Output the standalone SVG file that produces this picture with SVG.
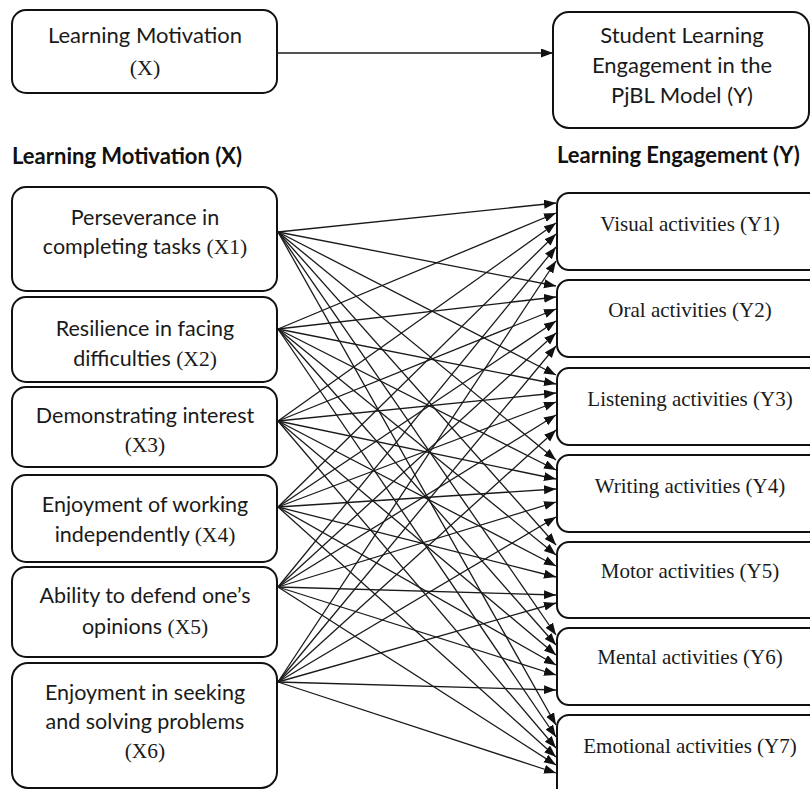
<svg xmlns="http://www.w3.org/2000/svg" width="810" height="789" viewBox="0 0 810 789">
  <style>
    .box { fill: #ffffff; stroke: #111111; stroke-width: 2; }
    .lbl { font-family: Lato, "Liberation Sans", sans-serif; font-size: 21.5px; fill: #1a1a1a; text-anchor: middle; }
    .big { font-size: 22px; }
    .ser { font-family: "Liberation Serif", serif; }
    .ylbl { font-family: "Liberation Serif", serif; font-size: 21px; fill: #1a1a1a; text-anchor: middle; }
    .hdr { font-family: Lato, "Liberation Sans", sans-serif; font-size: 22px; font-weight: bold; fill: #111111; }
    .edge { stroke: #1a1a1a; stroke-width: 1.3; fill: none; marker-end: url(#arr); }
  </style>
  <defs>
    <marker id="arr" markerUnits="userSpaceOnUse" markerWidth="13" markerHeight="10" refX="12" refY="4.5" orient="auto">
      <path d="M0,0 L12,4.5 L0,9 z" fill="#111111"/>
    </marker>
  </defs>
  <rect width="810" height="789" fill="#ffffff"/>

  <!-- overview row -->
  <g id="motivation">
    <rect class="box" x="12" y="10" width="265" height="83" rx="14"/>
    <text class="lbl big" x="145" y="43">Learning Motivation</text>
    <text class="lbl big ser" x="145" y="75">(X)</text>
  </g>
  <g id="engagement">
    <rect class="box" x="553" y="12" width="256" height="116" rx="16"/>
    <text class="lbl big" x="682" y="43">Student Learning</text>
    <text class="lbl big" x="682" y="73">Engagement in the</text>
    <text class="lbl big" x="682" y="103">PjBL Model (Y)</text>
  </g>

  <!-- column headers -->
  <text class="hdr" x="12" y="164">Learning Motivation (X)</text>
  <text class="hdr" x="557" y="163">Learning Engagement (Y)</text>

  <!-- indicators of X -->
  <g id="x1">
    <rect class="box" x="12" y="187" width="265" height="104" rx="14"/>
    <text class="lbl" x="145" y="225">Perseverance in</text>
    <text class="lbl" x="145" y="254">completing tasks <tspan class="ser">(X1)</tspan></text>
  </g>
  <g id="x2">
    <rect class="box" x="12" y="297" width="265" height="85" rx="14"/>
    <text class="lbl" x="145" y="336">Resilience in facing</text>
    <text class="lbl" x="145" y="366">difficulties <tspan class="ser">(X2)</tspan></text>
  </g>
  <g id="x3">
    <rect class="box" x="12" y="387" width="265" height="80" rx="14"/>
    <text class="lbl" x="145" y="423">Demonstrating interest</text>
    <text class="lbl ser" x="145" y="452">(X3)</text>
  </g>
  <g id="x4">
    <rect class="box" x="12" y="475" width="265" height="87" rx="14"/>
    <text class="lbl" x="145" y="512">Enjoyment of working</text>
    <text class="lbl" x="145" y="542">independently <tspan class="ser">(X4)</tspan></text>
  </g>
  <g id="x5">
    <rect class="box" x="12" y="567" width="265" height="90" rx="14"/>
    <text class="lbl" x="145" y="603">Ability to defend one’s</text>
    <text class="lbl" x="145" y="634">opinions <tspan class="ser">(X5)</tspan></text>
  </g>
  <g id="x6">
    <rect class="box" x="12" y="663" width="265" height="125" rx="16"/>
    <text class="lbl" x="145" y="700">Enjoyment in seeking</text>
    <text class="lbl" x="145" y="729">and solving problems</text>
    <text class="lbl ser" x="145" y="758">(X6)</text>
  </g>

  <!-- indicators of Y -->
  <g id="y1">
    <rect class="box" x="557" y="193" width="270" height="77" rx="12"/>
    <text class="ylbl" x="690" y="231">Visual activities (Y1)</text>
  </g>
  <g id="y2">
    <rect class="box" x="557" y="280" width="270" height="77" rx="12"/>
    <text class="ylbl" x="690" y="317">Oral activities (Y2)</text>
  </g>
  <g id="y3">
    <rect class="box" x="557" y="368" width="270" height="77" rx="12"/>
    <text class="ylbl" x="690" y="406">Listening activities (Y3)</text>
  </g>
  <g id="y4">
    <rect class="box" x="557" y="455" width="270" height="77" rx="12"/>
    <text class="ylbl" x="690" y="493">Writing activities (Y4)</text>
  </g>
  <g id="y5">
    <rect class="box" x="557" y="542" width="270" height="76" rx="12"/>
    <text class="ylbl" x="690" y="578">Motor activities (Y5)</text>
  </g>
  <g id="y6">
    <rect class="box" x="557" y="628" width="270" height="77" rx="12"/>
    <text class="ylbl" x="690" y="664">Mental activities (Y6)</text>
  </g>
  <g id="y7">
    <rect class="box" x="557" y="715" width="270" height="90" rx="12"/>
    <text class="ylbl" x="690" y="753">Emotional activities (Y7)</text>
  </g>

  <!-- connectors: X -> Y overview, then every indicator pair -->
  <g id="connectors">
    <line class="edge" x1="277" y1="53" x2="553" y2="53"/>

    <!-- from X1 -->
    <line class="edge" x1="278" y1="232" x2="556" y2="203"/>
    <line class="edge" x1="278" y1="232" x2="556" y2="286"/>
    <line class="edge" x1="278" y1="232" x2="556" y2="375"/>
    <line class="edge" x1="278" y1="232" x2="556" y2="460"/>
    <line class="edge" x1="278" y1="232" x2="556" y2="545"/>
    <line class="edge" x1="278" y1="232" x2="556" y2="635"/>
    <line class="edge" x1="278" y1="232" x2="556" y2="725"/>

    <!-- from X2 -->
    <line class="edge" x1="278" y1="329" x2="556" y2="213"/>
    <line class="edge" x1="278" y1="329" x2="556" y2="297"/>
    <line class="edge" x1="278" y1="329" x2="556" y2="384"/>
    <line class="edge" x1="278" y1="329" x2="556" y2="470"/>
    <line class="edge" x1="278" y1="329" x2="556" y2="555"/>
    <line class="edge" x1="278" y1="329" x2="556" y2="645"/>
    <line class="edge" x1="278" y1="329" x2="556" y2="737"/>

    <!-- from X3 -->
    <line class="edge" x1="278" y1="421" x2="556" y2="223"/>
    <line class="edge" x1="278" y1="421" x2="556" y2="309"/>
    <line class="edge" x1="278" y1="421" x2="556" y2="393"/>
    <line class="edge" x1="278" y1="421" x2="556" y2="479"/>
    <line class="edge" x1="278" y1="421" x2="556" y2="566"/>
    <line class="edge" x1="278" y1="421" x2="556" y2="655"/>
    <line class="edge" x1="278" y1="421" x2="556" y2="748"/>

    <!-- from X4 -->
    <line class="edge" x1="278" y1="507" x2="556" y2="234"/>
    <line class="edge" x1="278" y1="507" x2="556" y2="321"/>
    <line class="edge" x1="278" y1="507" x2="556" y2="402"/>
    <line class="edge" x1="278" y1="507" x2="556" y2="489"/>
    <line class="edge" x1="278" y1="507" x2="556" y2="577"/>
    <line class="edge" x1="278" y1="507" x2="556" y2="665"/>
    <line class="edge" x1="278" y1="507" x2="556" y2="757"/>

    <!-- from X5 -->
    <line class="edge" x1="278" y1="587" x2="556" y2="247"/>
    <line class="edge" x1="278" y1="587" x2="556" y2="333"/>
    <line class="edge" x1="278" y1="587" x2="556" y2="415"/>
    <line class="edge" x1="278" y1="587" x2="556" y2="502"/>
    <line class="edge" x1="278" y1="587" x2="556" y2="595"/>
    <line class="edge" x1="278" y1="587" x2="556" y2="675"/>
    <line class="edge" x1="278" y1="587" x2="556" y2="765"/>

    <!-- from X6 -->
    <line class="edge" x1="278" y1="682" x2="556" y2="261"/>
    <line class="edge" x1="278" y1="682" x2="556" y2="346"/>
    <line class="edge" x1="278" y1="682" x2="556" y2="430"/>
    <line class="edge" x1="278" y1="682" x2="556" y2="517"/>
    <line class="edge" x1="278" y1="682" x2="556" y2="603"/>
    <line class="edge" x1="278" y1="682" x2="556" y2="690"/>
    <line class="edge" x1="278" y1="682" x2="556" y2="773"/>
  </g>
</svg>
